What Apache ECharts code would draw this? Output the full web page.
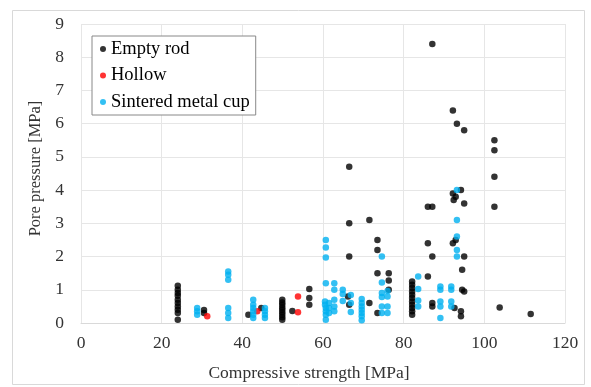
<!DOCTYPE html>
<html>
<head>
<meta charset="utf-8">
<script src="https://cdn.jsdelivr.net/npm/echarts@6/dist/echarts.min.js"></script>
<style>
  html, body { margin: 0; padding: 0; background: #fff; }
  #chart { width: 591px; height: 387px; }
</style>
</head>
<body>
<div id="chart"></div>
<script>
const xTicks = [0, 20, 40, 60, 80, 100, 120]
const yTicks = [0, 1, 2, 3, 4, 5, 6, 7, 8, 9]

const emptyRod = [
  [24, 1.12], [24, 1.0], [24, 0.9], [24, 0.82], [24, 0.7], [24, 0.6], [24, 0.5], [24, 0.4], [24, 0.3], [24, 0.1],
  [30.5, 0.39], [30.5, 0.3],
  [41.5, 0.25], [44.7, 0.45],
  [49.9, 0.7], [49.9, 0.62], [49.9, 0.55], [49.9, 0.47], [49.9, 0.4], [49.9, 0.32], [49.9, 0.25], [49.9, 0.17], [49.9, 0.1],
  [52.4, 0.36],
  [56.6, 1.02], [56.6, 0.75], [56.6, 0.55],
  [66.5, 4.7], [66.5, 3.0], [66.5, 2.0], [66.2, 0.8], [66.5, 0.55],
  [71.5, 3.1], [71.5, 0.6],
  [73.5, 2.5], [73.5, 2.2], [73.5, 1.5], [73.5, 0.3],
  [76.3, 1.5], [76.3, 1.28], [76.3, 1.0],
  [82.1, 1.25], [82.1, 1.15], [82.1, 1.05], [82.1, 0.95], [82.1, 0.85], [82.1, 0.75], [82.1, 0.65], [82.1, 0.55], [82.1, 0.45], [82.1, 0.35], [82.1, 0.25],
  [86, 3.5], [86, 2.4], [86, 1.4],
  [87.1, 8.4], [87.1, 3.5], [87.1, 2.0], [87.1, 0.6], [87.1, 0.5],
  [92.2, 6.4], [92.2, 3.9], [92.4, 3.7], [92.2, 2.4], [92.6, 0.45],
  [92.9, 3.8], [92.9, 2.5],
  [93.2, 6.0],
  [94.2, 4.0], [94.5, 1.6], [94.5, 1.0], [94.2, 0.35], [94.2, 0.2],
  [95, 5.8], [95, 3.6], [95, 2.0], [95, 0.95],
  [102.5, 5.5], [102.5, 5.2], [102.5, 4.4], [102.5, 3.5],
  [103.8, 0.47],
  [111.5, 0.27],
]

const hollow = [
  [31.3, 0.2], [43.7, 0.35], [53.8, 0.8], [53.8, 0.32],
]

const sinteredCup = [
  [28.8, 0.45], [28.8, 0.35], [28.8, 0.25],
  [36.5, 1.55], [36.5, 1.45], [36.5, 1.3], [36.5, 0.45], [36.5, 0.3], [36.5, 0.15],
  [42.7, 0.7], [42.7, 0.55], [42.7, 0.45], [42.7, 0.35], [42.7, 0.25], [42.7, 0.15],
  [45.6, 0.45], [45.6, 0.35], [45.6, 0.25], [45.6, 0.15],
  [60.7, 2.5], [60.7, 2.27], [60.7, 1.97], [60.7, 1.2], [60.5, 0.65], [60.5, 0.55], [60.7, 0.45], [60.7, 0.35], [60.7, 0.25], [60.7, 0.1],
  [61.5, 0.6], [61.5, 0.45], [61.5, 0.3],
  [62.8, 1.2], [62.8, 1.0], [62.8, 0.7], [62.8, 0.5], [62.8, 0.35],
  [64.9, 1.0], [64.9, 0.87], [64.9, 0.66],
  [66.9, 0.84], [66.9, 0.6], [66.9, 0.33],
  [69.6, 0.72], [69.6, 0.6], [69.6, 0.5], [69.6, 0.4], [69.6, 0.3], [69.6, 0.2], [69.6, 0.08],
  [74.6, 2.0], [74.6, 1.22], [74.6, 0.9], [74.6, 0.78], [74.6, 0.5], [74.6, 0.3],
  [76, 0.96], [76, 0.8], [76, 0.5], [76, 0.3],
  [83.6, 1.4], [83.6, 1.02], [83.6, 0.68], [83.6, 0.5],
  [89.1, 1.1], [89.1, 1.0], [89.1, 0.65], [89.1, 0.5], [89.1, 0.15],
  [91.8, 1.1], [91.8, 1.0], [91.8, 0.65], [91.8, 0.5],
  [93.2, 4.0], [93.2, 3.1], [93.2, 2.6], [93.2, 2.2], [93.2, 2.0],
]

const font = "'Liberation Serif', 'Times New Roman', serif"

let myChart = echarts.init(document.getElementById('chart'))
let option = {
  animation: false,
  backgroundColor: '#fff',
  graphic: [
    {
      type: 'rect',
      shape: { x: 12.5, y: 10.5, width: 572, height: 374 },
      style: { fill: 'none', stroke: '#d9d9d9', lineWidth: 1 },
      silent: true,
    },
  ],
  grid: {
    left: 81,
    right: 26,
    top: 24,
    bottom: 62,
  },
  legend: {
    left: 92,
    top: 36,
    orient: 'vertical',
    itemWidth: 6,
    itemHeight: 6,
    itemGap: 6.5,
    padding: [3, 6, 3, 8],
    backgroundColor: '#fff',
    borderColor: '#888',
    borderWidth: 1,
    borderRadius: 0,
    textStyle: {
      fontFamily: font,
      fontSize: 18.5,
      lineHeight: 20,
      color: '#000',
    },
    data: [
      { name: 'Empty rod', icon: 'circle' },
      { name: 'Hollow', icon: 'circle' },
      { name: 'Sintered metal cup', icon: 'circle' },
    ],
  },
  xAxis: {
    type: 'value',
    min: xTicks[0],
    max: xTicks[xTicks.length - 1],
    interval: 20,
    name: 'Compressive strength [MPa]',
    nameLocation: 'middle',
    nameGap: 41,
    nameTextStyle: { fontFamily: font, fontSize: 17.5, color: '#333', padding: [0, 28, 0, 0] },
    axisLine: { show: true, lineStyle: { color: '#d9d9d9' } },
    axisTick: { show: false },
    axisLabel: { fontFamily: font, fontSize: 17.5, color: '#333', margin: 11 },
    splitLine: { show: true, lineStyle: { color: '#e6e6e6' } },
  },
  yAxis: {
    type: 'value',
    min: yTicks[0],
    max: yTicks[yTicks.length - 1],
    interval: 1,
    name: 'Pore pressure [MPa]',
    nameLocation: 'middle',
    nameGap: 36,
    nameTextStyle: { fontFamily: font, fontSize: 16.5, color: '#333', padding: [0, 0, 0, 10] },
    axisLine: { show: false },
    axisTick: { show: false },
    axisLabel: { fontFamily: font, fontSize: 17.5, color: '#333', margin: 17 },
    splitLine: { show: true, lineStyle: { color: '#e6e6e6' } },
  },
  series: [
    {
      name: 'Empty rod',
      type: 'scatter',
      data: emptyRod,
      symbolSize: 6.5,
      itemStyle: { color: '#000000' },
    },
    {
      name: 'Hollow',
      type: 'scatter',
      data: hollow,
      symbolSize: 6.5,
      itemStyle: { color: '#ff0000' },
    },
    {
      name: 'Sintered metal cup',
      type: 'scatter',
      data: sinteredCup,
      symbolSize: 6.5,
      itemStyle: { color: '#00b0f0' },
    },
  ],
}
myChart.setOption(option)
</script>
</body>
</html>
